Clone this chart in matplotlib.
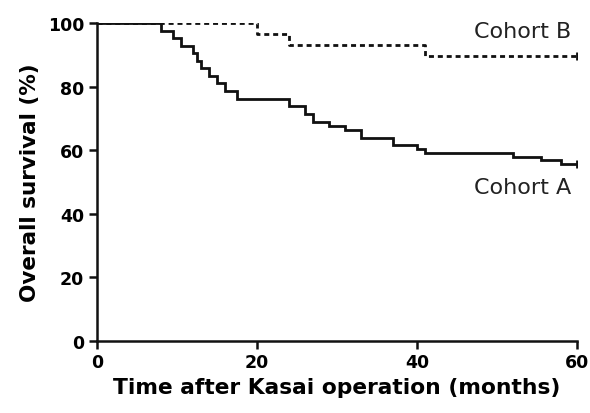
import matplotlib
matplotlib.use("Agg")
import matplotlib.pyplot as plt

plt.rcParams["font.family"] = ["DejaVu Sans"]

# Kaplan-Meier step data (months, % surviving)
cohort_a_t = [0, 8, 9.5, 10.5, 12, 12.5, 13, 14, 15, 16, 17.5, 24, 26, 27, 29, 31, 33, 37, 40, 41, 52, 55.5, 58, 60]
cohort_a_s = [100, 97.6, 95.2, 92.9, 90.5, 88.1, 85.7, 83.3, 81.0, 78.6, 76.2, 73.8, 71.4, 69.0, 67.6, 66.3,
              63.9, 61.6, 60.4, 59.2, 58.0, 56.9, 55.7, 55.7]
cohort_b_t = [0, 20, 24, 41, 60]
cohort_b_s = [100, 96.6, 93.1, 89.7, 89.7]

x_ticks = [0, 20, 40, 60]
y_ticks = [0, 20, 40, 60, 80, 100]

fig = plt.figure(figsize=(5.9, 4.14), dpi=100)
ax = fig.add_axes([0.164, 0.174, 0.814, 0.768])

ax.step(cohort_a_t, cohort_a_s, where="post", color="#111111", lw=2.0, solid_joinstyle="miter")
ax.step(cohort_b_t, cohort_b_s, where="post", color="#111111", lw=2.0, linestyle=(0, (1.8, 1.4)))
ax.plot([cohort_a_t[-1]], [cohort_a_s[-1]], marker="|", ms=6, mew=2, color="#111111")
ax.plot([cohort_b_t[-1]], [cohort_b_s[-1]], marker="|", ms=6, mew=2, color="#111111")

ax.text(59.3, 97.5, "Cohort B", ha="right", va="center", fontsize=16, color="#222222")
ax.text(59.3, 48.5, "Cohort A", ha="right", va="center", fontsize=16, color="#222222")

ax.set_xlim(0, 60)
ax.set_ylim(0, 100)
ax.set_xticks(x_ticks)
ax.set_yticks(y_ticks)
for side in ["top", "right"]:
    ax.spines[side].set_visible(False)
for side in ["left", "bottom"]:
    ax.spines[side].set_linewidth(1.8)
    ax.spines[side].set_color("#111111")
ax.tick_params(width=1.8, length=6, color="#111111", labelsize=12.5, pad=3)
for lab in ax.get_xticklabels() + ax.get_yticklabels():
    lab.set_fontweight("bold")
ax.set_xlabel("Time after Kasai operation (months)", fontsize=15.7, fontweight="bold", labelpad=4)
ax.set_ylabel("Overall survival (%)", fontsize=15.5, fontweight="bold", labelpad=6)
ax.spines["left"].set_clip_on(False)

fig.savefig("out.png", dpi=100, facecolor="white")
